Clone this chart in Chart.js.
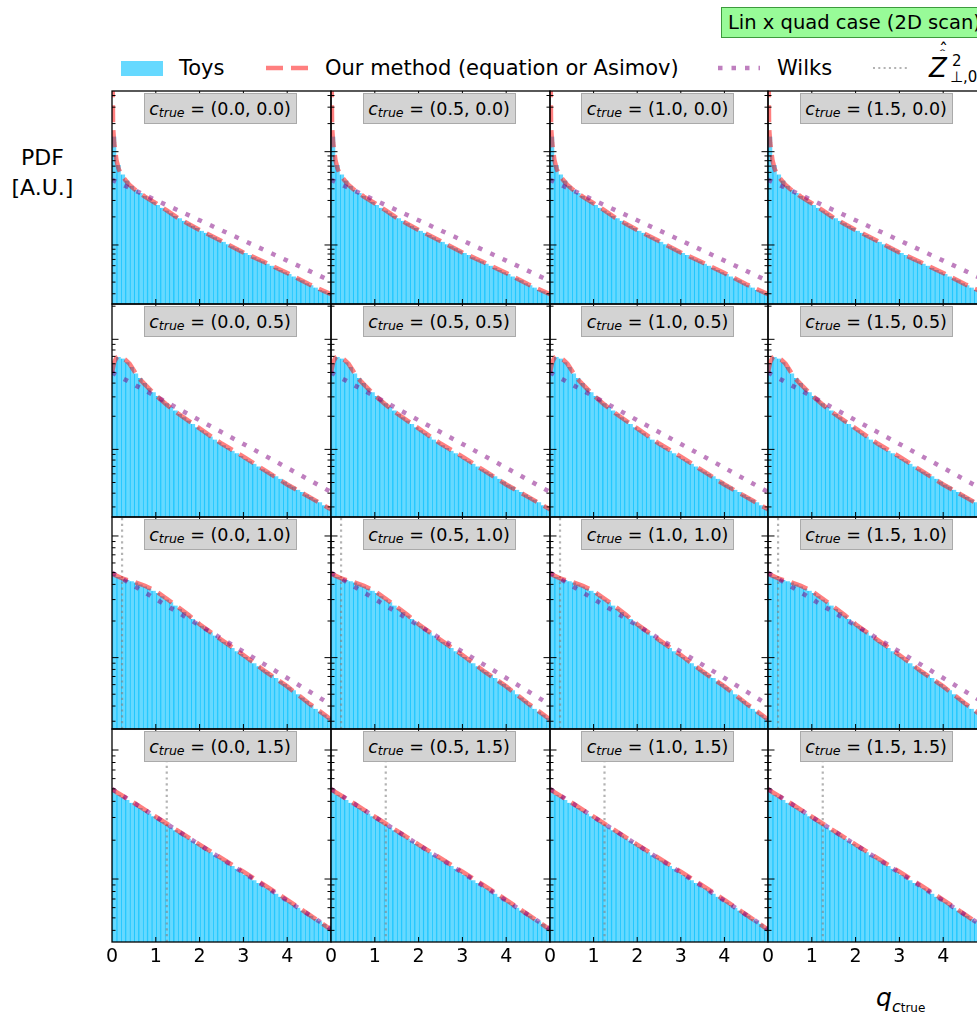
<!DOCTYPE html>
<html>
<head>
<meta charset="utf-8">
<script src="https://cdn.jsdelivr.net/npm/chart.js@4.4.1/dist/chart.umd.min.js"></script>
<style>
  html, body { margin: 0; padding: 0; background: #fff; }
  body { width: 977px; height: 1018px; overflow: hidden; position: relative;
         font-family: "DejaVu Sans", sans-serif; color: #000; }
  canvas.panel { position: absolute; }
  .tag { position: absolute; width: 153px; height: 31px; box-sizing: border-box;
         background: #d3d3d3; border: 1px solid #aaa; font-size: 17.5px;
         display: flex; align-items: center; justify-content: center; white-space: nowrap; }
  .tag .sb { font-size: 0.72em; position: relative; top: 0.35em; }
  .txt { position: absolute; white-space: nowrap; font-size: 21px; line-height: 24px; }
  .title { position: absolute; left: 721px; top: 7px; height: 31px; width: 300px; box-sizing: border-box;
           background: #98fb98; border: 1px solid #3c9a3c; font-size: 19.5px; line-height: 29px; padding-left: 6px; white-space: nowrap; }
  .sample { position: absolute; }
  .ylab { position: absolute; left: 0; top: 143px; width: 85px; text-align: center; font-size: 22px; line-height: 30px; }
  .xlab { position: absolute; left: 876px; top: 985px; font-size: 25px; line-height: 25px; white-space: nowrap; }
  .zs { position: absolute; white-space: nowrap; line-height: 1; }
</style>
</head>
<body>

<div class="title">Lin x quad case (2D scan)</div>

<div class="sample" style="left:121px; top:61px; width:42px; height:15px; background:rgba(0,191,255,0.6);"></div>
<div class="txt" style="left:179px; top:56px;">Toys</div>
<svg class="sample" style="left:266px; top:60px;" width="42" height="16"><line x1="0" y1="8" x2="42" y2="8" stroke="rgba(255,0,0,0.5)" stroke-width="4.5" stroke-dasharray="17 8"/></svg>
<div class="txt" style="left:325px; top:56px;">Our method (equation or Asimov)</div>
<svg class="sample" style="left:718px; top:60px;" width="42" height="16"><line x1="0" y1="8" x2="42" y2="8" stroke="rgba(128,0,128,0.5)" stroke-width="4.5" stroke-dasharray="4.5 9"/></svg>
<div class="txt" style="left:777px; top:56px;">Wilks</div>
<svg class="sample" style="left:873px; top:60px;" width="37" height="16"><line x1="0" y1="8" x2="37" y2="8" stroke="rgba(128,128,128,0.6)" stroke-width="2" stroke-dasharray="2 3.3"/></svg>
<!-- double-hat Z with superscript 2 and subscript, cut by the page edge -->
<div class="zs" style="left:929px; top:55px; font-size:26px;"><i>Z</i></div>
<div class="zs" style="left:939px; top:41px; font-size:18px;">ˆ</div>
<div class="zs" style="left:938px; top:45px; font-size:18px; transform:scaleY(0.45);">ˆ</div>
<div class="zs" style="left:952px; top:54px; font-size:15px;">2</div>
<div class="zs" style="left:950px; top:70px; font-size:15px;">⊥,0</div>

<div class="ylab">PDF<br>[A.U.]</div>
<div class="xlab"><i>q</i><span style="font-size:16px; position:relative; top:6px;"><i>c</i><span style="font-size:12px;">true</span></span></div>

<script>
// 2D scan grid: rows are c2, columns are c1
const c1Labels = ['0.0', '0.5', '1.0', '1.5'];
const c2Labels = ['0.0', '0.5', '1.0', '1.5'];

// histogram bin centres (width 0.1)
const binCentres = [
  0.05, 0.15, 0.25, 0.35, 0.45, 0.55, 0.65, 0.75, 0.85, 0.95,
  1.05, 1.15, 1.25, 1.35, 1.45, 1.55, 1.65, 1.75, 1.85, 1.95,
  2.05, 2.15, 2.25, 2.35, 2.45, 2.55, 2.65, 2.75, 2.85, 2.95,
  3.05, 3.15, 3.25, 3.35, 3.45, 3.55, 3.65, 3.75, 3.85, 3.95,
  4.05, 4.15, 4.25, 4.35, 4.45, 4.55, 4.65, 4.75, 4.85, 4.95
];

// toy histograms, one per c2 row
const toysC2_00 = [
  1.45, 0.72, 0.57, 0.49, 0.43, 0.39, 0.36, 0.335, 0.31, 0.29,
  0.268, 0.25, 0.234, 0.219, 0.205, 0.193, 0.182, 0.171, 0.161, 0.152,
  0.142, 0.135, 0.128, 0.121, 0.114, 0.108, 0.102, 0.097, 0.092, 0.087,
  0.082, 0.078, 0.074, 0.07, 0.067, 0.063, 0.06, 0.057, 0.054, 0.051,
  0.049, 0.046, 0.044, 0.042, 0.039, 0.037, 0.035, 0.033, 0.032, 0.03
];
const toysC2_05 = [
  0.60, 0.69, 0.67, 0.62, 0.56, 0.49, 0.445, 0.40, 0.36, 0.33,
  0.305, 0.283, 0.262, 0.243, 0.226, 0.21, 0.196, 0.183, 0.17, 0.159,
  0.149, 0.14, 0.131, 0.123, 0.116, 0.109, 0.103, 0.097, 0.092, 0.087,
  0.082, 0.078, 0.074, 0.07, 0.066, 0.063, 0.06, 0.057, 0.054, 0.051,
  0.048, 0.046, 0.043, 0.041, 0.039, 0.037, 0.035, 0.033, 0.031, 0.029
];
const toysC2_10 = [
  0.48, 0.46, 0.445, 0.435, 0.425, 0.415, 0.40, 0.385, 0.37, 0.355,
  0.34, 0.32, 0.30, 0.285, 0.268, 0.252, 0.237, 0.222, 0.208, 0.195,
  0.183, 0.172, 0.162, 0.152, 0.143, 0.135, 0.127, 0.12, 0.113, 0.107,
  0.101, 0.095, 0.09, 0.085, 0.08, 0.076, 0.072, 0.068, 0.064, 0.061,
  0.057, 0.054, 0.05, 0.047, 0.044, 0.041, 0.038, 0.036, 0.034, 0.032
];
const toysC2_15 = [
  0.475, 0.45, 0.43, 0.41, 0.39, 0.37, 0.355, 0.338, 0.322, 0.306,
  0.291, 0.277, 0.264, 0.251, 0.239, 0.228, 0.217, 0.206, 0.196, 0.187,
  0.178, 0.169, 0.161, 0.153, 0.146, 0.139, 0.132, 0.126, 0.12, 0.114,
  0.108, 0.103, 0.098, 0.093, 0.089, 0.085, 0.081, 0.077, 0.073, 0.07,
  0.066, 0.063, 0.06, 0.057, 0.054, 0.052, 0.049, 0.047, 0.045, 0.042
];

// our method (equation or Asimov), q grid and pdf per row
const oursQ_00 = [0.005, 0.015, 0.025, 0.05, 0.1, 0.15, 0.2, 0.3, 0.4, 0.5, 0.75, 1, 1.25, 1.5, 1.75, 2, 2.5, 3, 3.5, 4, 4.5, 5];
const ours_00  = [20, 6, 1.8, 1.25, 0.82, 0.66, 0.58, 0.5, 0.44, 0.4, 0.33, 0.28, 0.235, 0.195, 0.168, 0.145, 0.11, 0.083, 0.065, 0.05, 0.038, 0.0296];
const oursQ_05 = [0, 0.05, 0.1, 0.15, 0.2, 0.3, 0.4, 0.5, 0.6, 0.75, 1, 1.25, 1.5, 2, 2.5, 3, 3.5, 4, 4.5, 5];
const ours_05  = [0.5, 0.62, 0.68, 0.70, 0.69, 0.655, 0.6, 0.52, 0.45, 0.39, 0.31, 0.255, 0.213, 0.155, 0.113, 0.086, 0.064, 0.048, 0.037, 0.0285];
const oursQ_10 = [0, 0.25, 0.5, 0.75, 1, 1.25, 1.5, 1.75, 2, 2.5, 3, 3.5, 4, 4.5, 5];
const ours_10  = [0.49, 0.445, 0.42, 0.39, 0.352, 0.305, 0.262, 0.224, 0.188, 0.14, 0.105, 0.077, 0.058, 0.042, 0.031];
const oursQ_15 = [0, 0.5, 1, 1.5, 2, 2.5, 3, 3.5, 4, 4.5, 5];
const ours_15  = [0.495, 0.39, 0.304, 0.237, 0.185, 0.145, 0.114, 0.089, 0.069, 0.053, 0.0405];

// Wilks (same in every panel)
const wilksQ = [0, 1, 2, 3, 4, 5];
const wilksPdf = [0.5, 0.303, 0.184, 0.112, 0.068, 0.041];

// Z-hat marker per row (none for the first two rows)
const zHatQ = [null, null, 0.23, 1.25];

// y range per row
const yMin = [0.0233, 0.0243, 0.0259, 0.0325];
const yMax = [4.47, 2.094, 1.432, 1.455];

const toysRows = [toysC2_00, toysC2_05, toysC2_10, toysC2_15];
const oursQRows = [oursQ_00, oursQ_05, oursQ_10, oursQ_15];
const oursRows = [ours_00, ours_05, ours_10, ours_15];

const pts = (xs, ys) => xs.map((x, i) => ({ x: x, y: ys[i] }));

// frame + inward ticks on all four sides
const frameTicks = {
  id: 'frameTicks',
  afterDatasetsDraw(chart) {
    const { ctx, chartArea: a, scales: { x, y } } = chart;
    ctx.save();
    ctx.strokeStyle = '#000';
    ctx.lineWidth = 1;
    ctx.beginPath();
    for (let q = 1; q < 5; q++) {
      const px = x.getPixelForValue(q);
      ctx.moveTo(px, a.bottom); ctx.lineTo(px, a.bottom - 5);
      ctx.moveTo(px, a.top); ctx.lineTo(px, a.top + 5);
    }
    const e0 = Math.floor(Math.log10(y.min)), e1 = Math.ceil(Math.log10(y.max));
    for (let e = e0; e <= e1; e++) {
      for (let m = 1; m < 10; m++) {
        const v = m * Math.pow(10, e);
        if (v < y.min || v > y.max) continue;
        const py = y.getPixelForValue(v);
        const len = m === 1 ? 6.5 : 3.5;
        ctx.moveTo(a.left, py); ctx.lineTo(a.left + len, py);
        ctx.moveTo(a.right, py); ctx.lineTo(a.right - len, py);
      }
    }
    ctx.stroke();
    ctx.lineWidth = 1.3;
    ctx.strokeRect(a.left, a.top, a.right - a.left, a.bottom - a.top);
    ctx.restore();
  }
};

const colLeft = [112, 331, 550, 768, 987];
const rowTop = [91, 304, 517, 729, 942];
const PAD = 14, TICK_ROOM = 30;

for (let r = 0; r < 4; r++) {
  for (let c = 0; c < 4; c++) {
    const L = colLeft[c], W = colLeft[c + 1] - L;
    const T = rowTop[r], H = rowTop[r + 1] - T;
    const bottomRow = r === 3;

    const cv = document.createElement('canvas');
    cv.className = 'panel';
    cv.width = W + 2 * PAD;
    cv.height = H + PAD + (bottomRow ? TICK_ROOM + 4 : PAD);
    cv.style.left = (L - PAD) + 'px';
    cv.style.top = (T - PAD) + 'px';
    cv.style.width = cv.width + 'px';
    cv.style.height = cv.height + 'px';
    document.body.appendChild(cv);

    const tag = document.createElement('div');
    tag.className = 'tag';
    tag.style.left = (L + W / 2 - 78) + 'px';
    tag.style.top = (T + 2) + 'px';
    tag.innerHTML = '<i>c</i><i class="sb">true</i>&nbsp;= (' + c1Labels[c] + ', ' + c2Labels[r] + ')';
    document.body.appendChild(tag);

    const datasets = [
      { type: 'line', label: 'Wilks', data: pts(wilksQ, wilksPdf),
        borderColor: 'rgba(128,0,128,0.5)', borderWidth: 4.5, borderDash: [4.5, 9],
        pointRadius: 0, clip: 0, order: 1 },
      { type: 'line', label: 'Our method (equation or Asimov)', data: pts(oursQRows[r], oursRows[r]),
        borderColor: 'rgba(255,0,0,0.5)', borderWidth: 4.5, borderDash: [17, 8],
        pointRadius: 0, clip: 0, order: 2 },
      { type: 'bar', label: 'Toys', data: pts(binCentres, toysRows[r]),
        backgroundColor: 'rgba(0,191,255,0.6)', borderColor: 'rgba(0,191,255,0.8)',
        borderWidth: { left: 0.8, right: 0, top: 0, bottom: 0 },
        barPercentage: 1, categoryPercentage: 1, order: 4 }
    ];
    if (zHatQ[r] !== null) {
      datasets.push({ type: 'line', label: 'Z', data: [{ x: zHatQ[r], y: yMin[r] }, { x: zHatQ[r], y: yMax[r] }],
        borderColor: 'rgba(128,128,128,0.6)', borderWidth: 2.2, borderDash: [2.2, 3.6],
        pointRadius: 0, clip: 0, order: 3 });
    }

    new Chart(cv, {
      type: 'bar',
      data: { datasets: datasets },
      options: {
        responsive: false,
        animation: false,
        devicePixelRatio: 1,
        layout: { padding: { left: PAD, right: PAD, top: PAD, bottom: bottomRow ? 4 : PAD } },
        plugins: { legend: { display: false }, tooltip: { enabled: false } },
        scales: {
          x: {
            type: 'linear', min: 0, max: 5, offset: false, display: bottomRow,
            grid: { display: false, drawTicks: false, offset: false },
            border: { display: false },
            ticks: {
              stepSize: 1, padding: 4, color: '#000', autoSkip: false, maxRotation: 0,
              font: { family: 'DejaVu Sans', size: 19 },
              callback: v => (v < 5 ? String(v) : '')
            },
            afterFit: s => { if (bottomRow) s.height = TICK_ROOM; }
          },
          y: { type: 'logarithmic', min: yMin[r], max: yMax[r], display: false }
        }
      },
      plugins: [frameTicks]
    });
  }
}
</script>
</body>
</html>
